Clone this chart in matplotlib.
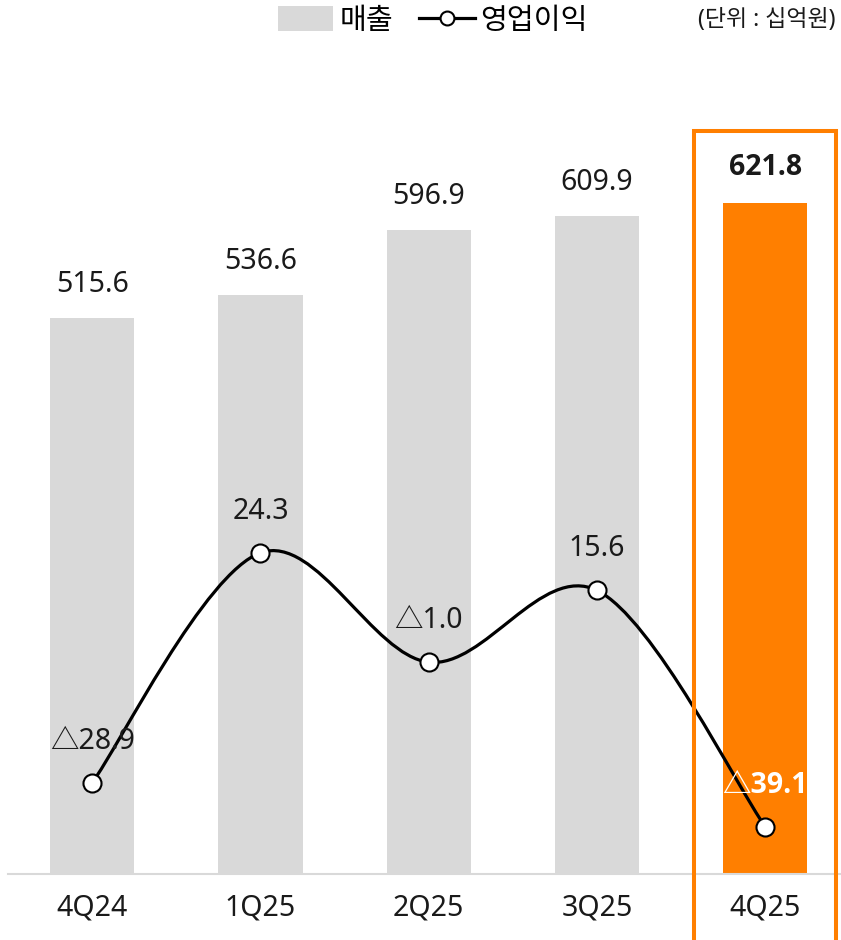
# 매출 / 영업이익 분기 차트
import matplotlib
matplotlib.use("Agg")
import matplotlib.pyplot as plt
from matplotlib.path import Path
from matplotlib.patches import PathPatch, Patch, Rectangle
from matplotlib.lines import Line2D

plt.rcParams['font.family'] = ['Noto Sans', 'Noto Sans CJK KR', 'DejaVu Sans']
BOLD_FAMILY = ['Open Sans', 'Noto Sans CJK KR', 'DejaVu Sans']

quarters = ["4Q24", "1Q25", "2Q25", "3Q25", "4Q25"]
revenue = [515.6, 536.6, 596.9, 609.9, 621.8]
op_profit = [-28.9, 24.3, -1.0, 15.6, -39.1]

GRAY = "#D9D9D9"
ORANGE = "#FF7F00"
TEXT = "#1A1A1A"


def fmt(v):
    return ("△" if v < 0 else "") + f"{abs(v):.1f}"


def smooth_path(xs, ys):
    """Excel-style smoothed line as cubic Bezier segments."""
    pts = list(zip(xs, ys))
    n = len(pts)
    verts = [pts[0]]
    codes = [Path.MOVETO]
    for i in range(n - 1):
        p0 = pts[max(i - 1, 0)]
        p1 = pts[i]
        p2 = pts[i + 1]
        p3 = pts[min(i + 2, n - 1)]
        c1 = (p1[0] + (p2[0] - p0[0]) / 6, p1[1] + (p2[1] - p0[1]) / 6)
        c2 = (p2[0] - (p3[0] - p1[0]) / 6, p2[1] - (p3[1] - p1[1]) / 6)
        verts += [c1, c2, p2]
        codes += [Path.CURVE4] * 3
    return Path(verts, codes)


W, H = 841, 940
fig = plt.figure(figsize=(W / 100, H / 100), dpi=100)
ax = fig.add_axes([8 / W, 66 / H, 833 / W, 774 / H])

x = list(range(len(quarters)))
colors = [GRAY] * (len(quarters) - 1) + [ORANGE]
ax.bar(x, revenue, width=0.5, color=colors, zorder=1)
ax.set_xlim(-0.5, -0.5 + 833 / 168.3)
ax.set_ylim(0, 774 / 1.0785)

for s in ["top", "left", "right"]:
    ax.spines[s].set_visible(False)
ax.spines["bottom"].set_color(GRAY)
ax.spines["bottom"].set_linewidth(1.5)
ax.set_yticks([])
ax.set_xticks(x)
ax.set_xticklabels(quarters, fontsize=20.5, color=TEXT)
ax.tick_params(axis="x", length=0, pad=14)

for i, v in enumerate(revenue):
    last = i == len(revenue) - 1
    ax.annotate(f"{v:.1f}", (i, v), xytext=(0, 26 if last else 24),
                textcoords="offset points", ha="center", va="center",
                fontsize=20.5, color=TEXT,
                family=BOLD_FAMILY if last else None,
                fontweight="bold" if last else "normal")

ax2 = ax.twinx()
ax2.set_ylim(-50, 129.05)
ax2.axis("off")
ax2.add_patch(PathPatch(smooth_path(x, op_profit), fill=False,
                        edgecolor="black", lw=2.3, zorder=3))
ax2.plot(x, op_profit, "o", ms=13, mfc="white", mec="black", mew=1.5, zorder=4)

for i, v in enumerate(op_profit):
    last = i == len(op_profit) - 1
    ax2.annotate(fmt(v), (i, v), xytext=(0, 30), textcoords="offset points",
                 ha="center", va="center", fontsize=20.5, zorder=5,
                 color="white" if last else TEXT,
                 family=BOLD_FAMILY if last else None,
                 fontweight="bold" if last else "normal")

# highlight box around the latest quarter
fig.add_artist(Rectangle((694 / W, -10 / H), 142 / W, (940 - 130.5 + 10) / H,
                         transform=fig.transFigure, fill=False,
                         edgecolor=ORANGE, lw=2.9, clip_on=False))

handles = [Patch(facecolor=GRAY, edgecolor="none"),
           Line2D([], [], color="black", lw=2.3, marker="o", ms=10,
                  mfc="white", mec="black", mew=1.5)]
fig.legend(handles, ["매출", "영업이익"], loc="center", ncol=2,
           bbox_to_anchor=(433 / W, 1 - 21 / H), frameon=False,
           fontsize=21, handlelength=1.9, handleheight=0.9,
           handletextpad=0.2, columnspacing=0.9)

fig.text(836 / W, 1 - 20 / H, "(단위 : 십억원)", ha="right", va="center",
         fontsize=16.5, color=TEXT)

fig.savefig("out.png", dpi=100)
